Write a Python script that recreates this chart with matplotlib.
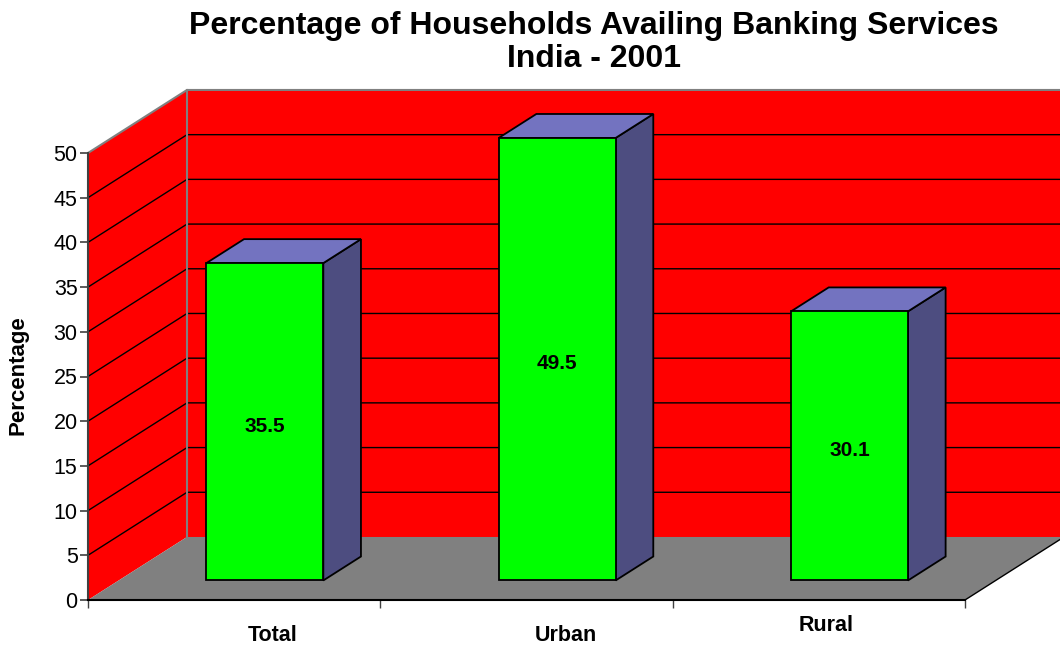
import matplotlib
matplotlib.use('Agg')
import matplotlib.pyplot as plt
from matplotlib.patches import Polygon

plt.rcParams['font.family'] = ['Liberation Sans', 'DejaVu Sans']

categories = ['Total', 'Urban', 'Rural']
values = [35.5, 49.5, 30.1]
y_ticks = list(range(0, 55, 5))
y_max = 50

# oblique depth offset (in data units) for the fake 3D look
DX = 0.3387
DY = 7.05
# depth span of the bars (fraction of the floor depth)
d0, d1 = 0.31, 0.69
half_w = 0.2

def P(x, y, d):
    return (x + d * DX, y + d * DY)

fig = plt.figure(figsize=(10.6, 6.5), dpi=100)
ax = fig.add_axes([88 / 1060, 50 / 650, 877 / 1060, 447 / 650])
n = len(categories)
ax.set_xlim(0, n)
ax.set_ylim(0, y_max)

def poly(pts, fc, ec='none', lw=0, z=1):
    ax.add_patch(Polygon(pts, closed=True, facecolor=fc, edgecolor=ec,
                         linewidth=lw, zorder=z, clip_on=False))

# walls and floor
poly([P(0, 0, 0), P(0, y_max, 0), P(0, y_max, 1), P(0, 0, 1)], '#ff0000', z=1)
poly([P(0, 0, 1), P(0, y_max, 1), P(n, y_max, 1), P(n, 0, 1)], '#ff0000', z=1)
poly([P(0, 0, 0), P(n, 0, 0), P(n, 0, 1), P(0, 0, 1)], '#808080', z=1)

# gridlines on walls
for v in y_ticks[1:-1]:
    xs, ys = zip(P(0, v, 0), P(0, v, 1), P(n, v, 1))
    ax.plot(xs, ys, color='black', lw=1, zorder=2, clip_on=False)
# wall outline
xs, ys = zip(P(0, y_max, 0), P(0, y_max, 1), P(n, y_max, 1))
ax.plot(xs, ys, color='#808080', lw=1.5, zorder=2, clip_on=False)
xs, ys = zip(P(0, 0, 1), P(0, y_max, 1))
ax.plot(xs, ys, color='#808080', lw=1.5, zorder=2, clip_on=False)
xs, ys = zip(P(n, 0, 0), P(n, 0, 1))
ax.plot(xs, ys, color='black', lw=1, zorder=2, clip_on=False)

# bars
for i, v in enumerate(values):
    x0, x1 = i + 0.5 - half_w, i + 0.5 + half_w
    poly([P(x1, 0, d0), P(x1, v, d0), P(x1, v, d1), P(x1, 0, d1)],
         '#4d4d80', 'black', 1.3, z=3)
    poly([P(x0, v, d0), P(x1, v, d0), P(x1, v, d1), P(x0, v, d1)],
         '#7373c0', 'black', 1.3, z=3)
    poly([P(x0, 0, d0), P(x1, 0, d0), P(x1, v, d0), P(x0, v, d0)],
         '#00ff00', 'black', 1.3, z=4)
    tx, ty = P(i + 0.5, v / 2, d0)
    ax.text(tx, ty - 0.5, f'{v}', ha='center', va='center', fontsize=15,
            fontweight='bold', zorder=5)

# category labels
label_offsets = [(0.13, -4.0), (0.135, -4.0), (0.025, -2.9)]
for i, (c, (ox, oy)) in enumerate(zip(categories, label_offsets)):
    ax.text(i + 0.5 + ox, oy, c, ha='center', va='center', fontsize=15.5,
            fontweight='bold', clip_on=False)

# axes
for s in ['top', 'right']:
    ax.spines[s].set_visible(False)
ax.spines['left'].set_color('#404040')
ax.spines['left'].set_linewidth(1.5)
ax.spines['bottom'].set_color('black')
ax.spines['bottom'].set_linewidth(1.5)
ax.spines['left'].set_zorder(6)
ax.spines['bottom'].set_zorder(6)
ax.set_yticks(y_ticks)
ax.set_xticks(range(n + 1))
ax.set_xticklabels([])
ax.tick_params(axis='y', direction='out', length=6, width=1.2, color='#404040',
               labelsize=15.5, pad=1.5)
ax.tick_params(axis='x', direction='out', length=6, width=1, color='#404040')
ax.patch.set_visible(False)

fig.text(0.56, 0.935, 'Percentage of Households Availing Banking Services\nIndia - 2001',
         ha='center', va='center', fontsize=23, fontweight='bold', linespacing=1.12)
fig.text(18 / 1060, 0.423, 'Percentage', rotation=90, ha='center', va='center',
         fontsize=16, fontweight='bold')

fig.savefig('out.png', dpi=100)
